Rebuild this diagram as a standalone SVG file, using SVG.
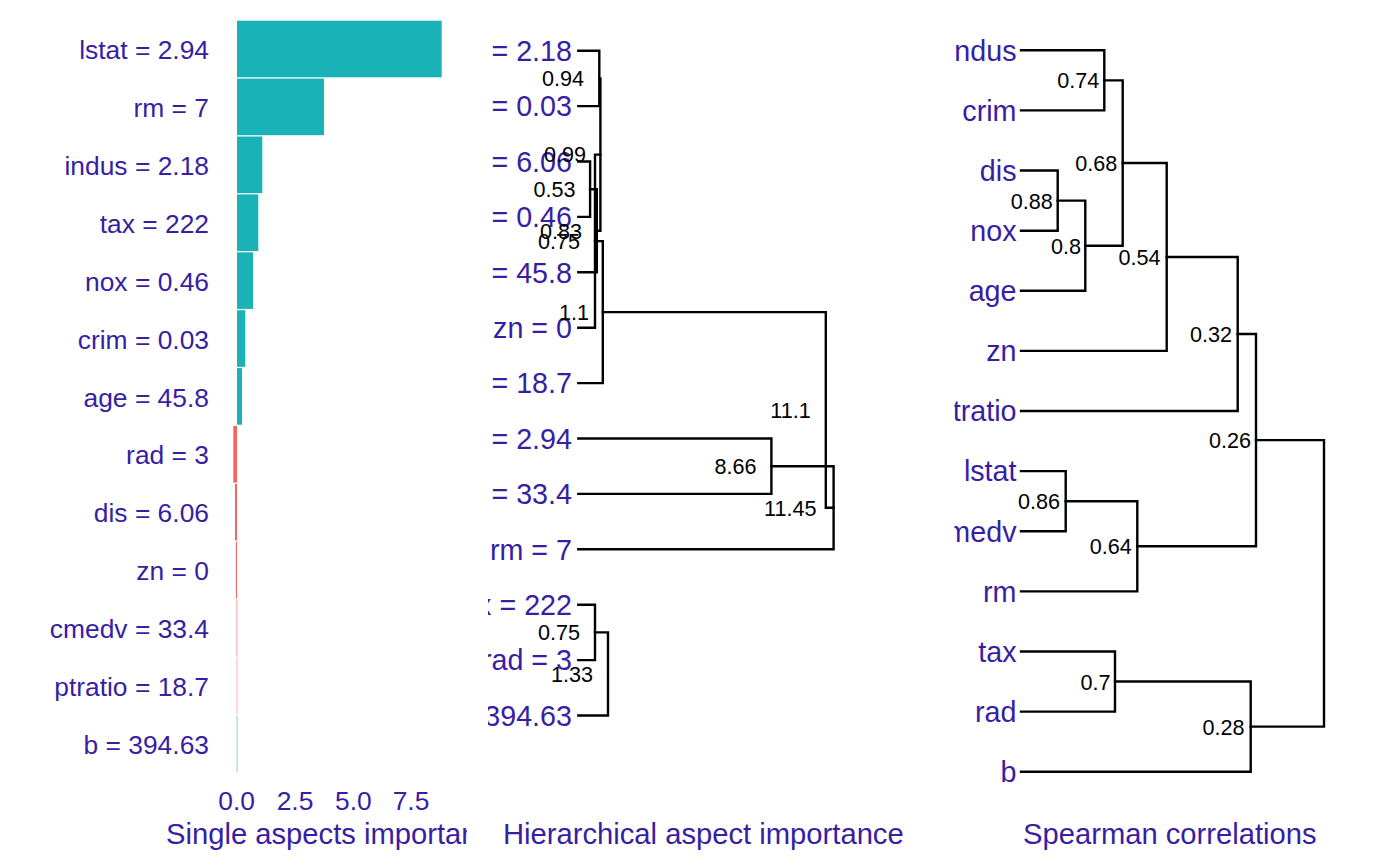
<svg xmlns="http://www.w3.org/2000/svg" width="1400" height="865" viewBox="0 0 1400 865">
<defs>
<style>
.lab{font-family:"Liberation Sans",Arial,sans-serif;fill:#371EA3}
.l1{font-size:26.4px;text-anchor:end}
.l2{font-size:28.7px;text-anchor:end}
.tk{font-family:"Liberation Sans",Arial,sans-serif;fill:#371EA3;font-size:26.4px;text-anchor:middle}
.ttl{font-family:"Liberation Sans",Arial,sans-serif;fill:#371EA3;font-size:29.2px}
.num{font-family:"Liberation Sans",Arial,sans-serif;fill:#000;font-size:21.6px;text-anchor:end}
.dl{fill:none;stroke:#000;stroke-width:2.4;stroke-linejoin:miter;stroke-linecap:square}
.pos{fill:#19B3B7}
.neg{fill:#F6665E}
</style>
<clipPath id="cL"><rect x="0" y="0" width="467" height="865"/></clipPath>
<clipPath id="cM"><rect x="488" y="0" width="452" height="865"/></clipPath>
<clipPath id="cR"><rect x="954.5" y="0" width="446" height="865"/></clipPath>
</defs>
<rect width="1400" height="865" fill="#fff"/>

<!-- Left panel: single aspects importance -->
<g id="left-panel" clip-path="url(#cL)">
<g id="bar-lstat"><rect class="pos" x="237" y="20.7" width="204.7" height="56.6"/><text class="lab l1" x="209" y="59.1">lstat = 2.94</text></g>
<g id="bar-rm"><rect class="pos" x="237" y="78.6" width="87" height="56.6"/><text class="lab l1" x="209" y="117">rm = 7</text></g>
<g id="bar-indus"><rect class="pos" x="237" y="136.5" width="25.3" height="56.6"/><text class="lab l1" x="209" y="174.9">indus = 2.18</text></g>
<g id="bar-tax"><rect class="pos" x="237" y="194.4" width="21.3" height="56.6"/><text class="lab l1" x="209" y="232.8">tax = 222</text></g>
<g id="bar-nox"><rect class="pos" x="237" y="252.3" width="16" height="56.6"/><text class="lab l1" x="209" y="290.7">nox = 0.46</text></g>
<g id="bar-crim"><rect class="pos" x="237" y="310.2" width="8.3" height="56.6"/><text class="lab l1" x="209" y="348.6">crim = 0.03</text></g>
<g id="bar-age"><rect class="pos" x="237" y="368.1" width="5" height="56.6"/><text class="lab l1" x="209" y="406.5">age = 45.8</text></g>
<g id="bar-rad"><rect class="neg" x="233.3" y="426" width="3.7" height="56.6"/><text class="lab l1" x="209" y="464.4">rad = 3</text></g>
<g id="bar-dis"><rect class="neg" x="235" y="483.9" width="2" height="56.6"/><text class="lab l1" x="209" y="522.3">dis = 6.06</text></g>
<g id="bar-zn"><rect class="neg" x="235.9" y="541.8" width="1.1" height="56.6"/><text class="lab l1" x="209" y="580.2">zn = 0</text></g>
<g id="bar-cmedv"><rect class="neg" x="236.4" y="599.7" width="1.1" height="56.6" opacity="0.6"/><text class="lab l1" x="209" y="638.1">cmedv = 33.4</text></g>
<g id="bar-ptratio"><rect class="neg" x="236.4" y="657.6" width="1.1" height="56.6" opacity="0.45"/><text class="lab l1" x="209" y="696">ptratio = 18.7</text></g>
<g id="bar-b"><rect class="pos" x="236.6" y="715.5" width="0.9" height="56.6" opacity="0.6"/><text class="lab l1" x="209" y="753.9">b = 394.63</text></g>
<g id="axis-left">
<text class="tk" x="236.7" y="810">0.0</text>
<text class="tk" x="295" y="810">2.5</text>
<text class="tk" x="353.3" y="810">5.0</text>
<text class="tk" x="411" y="810">7.5</text>
</g>
<text class="ttl" x="166" y="844">Single aspects importance</text>
</g>

<!-- Middle panel: hierarchical aspect importance -->
<g id="middle-panel">
<g id="middle-leaves" clip-path="url(#cM)">
<g id="m-indus"><text class="lab l2" x="572" y="61">indus = 2.18</text></g>
<g id="m-crim"><text class="lab l2" x="572" y="116.4">crim = 0.03</text></g>
<g id="m-dis"><text class="lab l2" x="572" y="171.8">dis = 6.06</text></g>
<g id="m-nox"><text class="lab l2" x="572" y="227.2">nox = 0.46</text></g>
<g id="m-age"><text class="lab l2" x="572" y="282.6">age = 45.8</text></g>
<g id="m-zn"><text class="lab l2" x="572" y="338">zn = 0</text></g>
<g id="m-ptratio"><text class="lab l2" x="572" y="393.4">ptratio = 18.7</text></g>
<g id="m-lstat"><text class="lab l2" x="572" y="448.8">lstat = 2.94</text></g>
<g id="m-cmedv"><text class="lab l2" x="572" y="504.2">cmedv = 33.4</text></g>
<g id="m-rm"><text class="lab l2" x="572" y="559.6">rm = 7</text></g>
<g id="m-tax"><text class="lab l2" x="572" y="615">tax = 222</text></g>
<g id="m-rad"><text class="lab l2" x="572" y="670.4">rad = 3</text></g>
<g id="m-b"><text class="lab l2" x="572" y="725.8">b = 394.63</text></g>
</g>
<g id="middle-connectors">
<path class="dl" d="M578.3,50.7 H599.3 V106.1 H578.3"/>
<path class="dl" d="M578.3,161.5 H590.1 V216.9 H578.3"/>
<path class="dl" d="M590.1,189.2 H596.8 V272.3 H578.3"/>
<path class="dl" d="M599.3,78.4 H600.4 V230.75 H596.8"/>
<path class="dl" d="M600.4,154.6 H595 V327.7 H578.3"/>
<path class="dl" d="M595,241.15 H602.8 V383.1 H578.3"/>
<path class="dl" d="M578.3,438.5 H771.4 V493.9 H578.3"/>
<path class="dl" d="M771.4,466.2 H833.6 V549.3 H578.3"/>
<path class="dl" d="M602.8,312.1 H825.8 V507.75 H833.6"/>
<path class="dl" d="M578.3,604.7 H595 V660.1 H578.3"/>
<path class="dl" d="M595,632.4 H608 V715.5 H578.3"/>
</g>
<g id="middle-values">
<text class="num" x="584" y="86.1">0.94</text>
<text class="num" x="575.5" y="196.9">0.53</text>
<text class="num" x="582" y="238.5">0.83</text>
<text class="num" x="586" y="162.3">0.99</text>
<text class="num" x="580" y="248.9">0.75</text>
<text class="num" x="589" y="319.8">1.1</text>
<text class="num" x="756.6" y="473.9">8.66</text>
<text class="num" x="816.5" y="515.5">11.45</text>
<text class="num" x="810.8" y="417.6">11.1</text>
<text class="num" x="580" y="640.1">0.75</text>
<text class="num" x="593" y="681.7">1.33</text>
</g>
<text class="ttl" x="503" y="844">Hierarchical aspect importance</text>
</g>

<!-- Right panel: Spearman correlations -->
<g id="right-panel">
<g id="right-leaves" clip-path="url(#cR)">
<g id="r-indus"><text class="lab l2" x="1016.5" y="60.6">indus</text></g>
<g id="r-crim"><text class="lab l2" x="1016.5" y="120.7">crim</text></g>
<g id="r-dis"><text class="lab l2" x="1016.5" y="180.8">dis</text></g>
<g id="r-nox"><text class="lab l2" x="1016.5" y="241">nox</text></g>
<g id="r-age"><text class="lab l2" x="1016.5" y="301.1">age</text></g>
<g id="r-zn"><text class="lab l2" x="1016.5" y="361.2">zn</text></g>
<g id="r-ptratio"><text class="lab l2" x="1016.5" y="421.3">ptratio</text></g>
<g id="r-lstat"><text class="lab l2" x="1016.5" y="481.4">lstat</text></g>
<g id="r-cmedv"><text class="lab l2" x="1016.5" y="541.6">cmedv</text></g>
<g id="r-rm"><text class="lab l2" x="1016.5" y="601.7">rm</text></g>
<g id="r-tax"><text class="lab l2" x="1016.5" y="661.8">tax</text></g>
<g id="r-rad"><text class="lab l2" x="1016.5" y="721.9">rad</text></g>
<g id="r-b"><text class="lab l2" x="1016.5" y="782">b</text></g>
</g>
<g id="right-connectors">
<path class="dl" d="M1021,50.3 H1104.3 V110.4 H1021"/>
<path class="dl" d="M1021,170.5 H1057.7 V230.7 H1021"/>
<path class="dl" d="M1057.7,200.6 H1085.3 V290.8 H1021"/>
<path class="dl" d="M1104.3,80.35 H1122.7 V245.7 H1085.3"/>
<path class="dl" d="M1122.7,163 H1166.7 V350.9 H1021"/>
<path class="dl" d="M1166.7,256.95 H1237.7 V411 H1021"/>
<path class="dl" d="M1021,471.1 H1065.7 V531.3 H1021"/>
<path class="dl" d="M1065.7,501.2 H1137.3 V591.4 H1021"/>
<path class="dl" d="M1237.7,334 H1256 V546.3 H1137.3"/>
<path class="dl" d="M1021,651.5 H1115 V711.6 H1021"/>
<path class="dl" d="M1115,681.55 H1250.7 V771.7 H1021"/>
<path class="dl" d="M1256,440.15 H1324 V726.6 H1250.7"/>
</g>
<g id="right-values">
<text class="num" x="1099.3" y="88.4">0.74</text>
<text class="num" x="1052.7" y="208.6">0.88</text>
<text class="num" x="1081" y="253.7">0.8</text>
<text class="num" x="1117.3" y="171">0.68</text>
<text class="num" x="1160.5" y="265">0.54</text>
<text class="num" x="1232" y="342">0.32</text>
<text class="num" x="1251" y="448.2">0.26</text>
<text class="num" x="1060" y="509.2">0.86</text>
<text class="num" x="1131.7" y="554.3">0.64</text>
<text class="num" x="1110.5" y="689.5">0.7</text>
<text class="num" x="1244.5" y="734.6">0.28</text>
</g>
<text class="ttl" x="1023" y="844">Spearman correlations</text>
</g>
</svg>
